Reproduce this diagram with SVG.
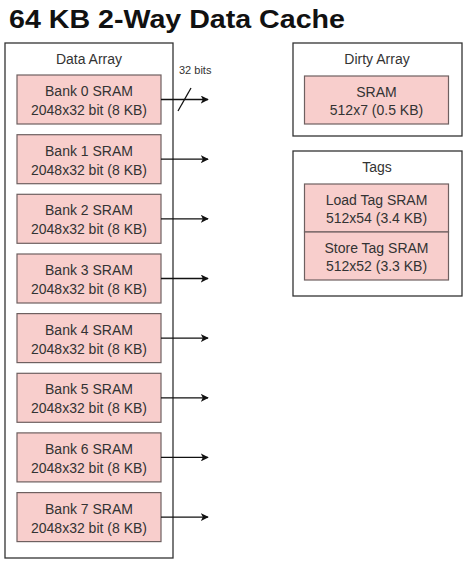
<svg xmlns="http://www.w3.org/2000/svg" width="464" height="564" viewBox="0 0 464 564">
<style>
.box{fill:#ffffff;stroke:#333333;stroke-width:1.3}
.sram{fill:#f8cecc;stroke:#6e6060;stroke-width:1.2}
.t{font-family:"Liberation Sans",Arial,sans-serif;font-size:14px;fill:#333333;text-anchor:middle}
.lbl{font-family:"Liberation Sans",Arial,sans-serif;font-size:11px;fill:#333333}
.title{font-family:"Liberation Sans",Arial,sans-serif;font-size:25px;font-weight:bold;fill:#111111}
.wire{stroke:#111111;stroke-width:1.3;fill:none}
</style>
<defs>
<marker id="arr" viewBox="0 0 10 10" refX="9" refY="5" markerWidth="8" markerHeight="8" markerUnits="userSpaceOnUse" orient="auto">
<path d="M0,0 L10,5 L0,10 L2.5,5 Z" fill="#111111"/>
</marker>
</defs>
<rect width="464" height="564" fill="#ffffff"/>
<text class="title" x="9" y="28" textLength="336" lengthAdjust="spacingAndGlyphs">64 KB 2-Way Data Cache</text>

<g id="data-array">
<rect class="box" x="5" y="43" width="168" height="515"/>
<text class="t" x="89" y="64">Data Array</text>
</g>

<g id="bank0" transform="translate(0,75)">
<rect class="sram" x="17" y="0" width="144" height="49"/>
<text class="t" x="89" y="21">Bank 0 SRAM</text>
<text class="t" x="89" y="40">2048x32 bit (8 KB)</text>
</g>
<g id="bank1" transform="translate(0,134.7)">
<rect class="sram" x="17" y="0" width="144" height="49"/>
<text class="t" x="89" y="21">Bank 1 SRAM</text>
<text class="t" x="89" y="40">2048x32 bit (8 KB)</text>
</g>
<g id="bank2" transform="translate(0,194.3)">
<rect class="sram" x="17" y="0" width="144" height="49"/>
<text class="t" x="89" y="21">Bank 2 SRAM</text>
<text class="t" x="89" y="40">2048x32 bit (8 KB)</text>
</g>
<g id="bank3" transform="translate(0,254)">
<rect class="sram" x="17" y="0" width="144" height="49"/>
<text class="t" x="89" y="21">Bank 3 SRAM</text>
<text class="t" x="89" y="40">2048x32 bit (8 KB)</text>
</g>
<g id="bank4" transform="translate(0,313.6)">
<rect class="sram" x="17" y="0" width="144" height="49"/>
<text class="t" x="89" y="21">Bank 4 SRAM</text>
<text class="t" x="89" y="40">2048x32 bit (8 KB)</text>
</g>
<g id="bank5" transform="translate(0,373.3)">
<rect class="sram" x="17" y="0" width="144" height="49"/>
<text class="t" x="89" y="21">Bank 5 SRAM</text>
<text class="t" x="89" y="40">2048x32 bit (8 KB)</text>
</g>
<g id="bank6" transform="translate(0,432.9)">
<rect class="sram" x="17" y="0" width="144" height="49"/>
<text class="t" x="89" y="21">Bank 6 SRAM</text>
<text class="t" x="89" y="40">2048x32 bit (8 KB)</text>
</g>
<g id="bank7" transform="translate(0,492.6)">
<rect class="sram" x="17" y="0" width="144" height="49"/>
<text class="t" x="89" y="21">Bank 7 SRAM</text>
<text class="t" x="89" y="40">2048x32 bit (8 KB)</text>
</g>

<g id="connectors">
<line class="wire" x1="161" y1="99.5" x2="208" y2="99.5" marker-end="url(#arr)"/>
<line class="wire" x1="161" y1="159.2" x2="208" y2="159.2" marker-end="url(#arr)"/>
<line class="wire" x1="161" y1="218.8" x2="208" y2="218.8" marker-end="url(#arr)"/>
<line class="wire" x1="161" y1="278.5" x2="208" y2="278.5" marker-end="url(#arr)"/>
<line class="wire" x1="161" y1="338.1" x2="208" y2="338.1" marker-end="url(#arr)"/>
<line class="wire" x1="161" y1="397.8" x2="208" y2="397.8" marker-end="url(#arr)"/>
<line class="wire" x1="161" y1="457.4" x2="208" y2="457.4" marker-end="url(#arr)"/>
<line class="wire" x1="161" y1="517.1" x2="208" y2="517.1" marker-end="url(#arr)"/>
<line class="wire" x1="178" y1="111" x2="191" y2="88"/>
<text class="lbl" x="179" y="74">32 bits</text>
</g>

<g id="dirty-array">
<rect class="box" x="293" y="43" width="169" height="93"/>
<text class="t" x="377" y="64">Dirty Array</text>
<rect class="sram" x="304.5" y="76" width="144" height="48"/>
<text class="t" x="376.5" y="97">SRAM</text>
<text class="t" x="376.5" y="115">512x7 (0.5 KB)</text>
</g>

<g id="tags">
<rect class="box" x="293" y="151" width="169" height="145"/>
<text class="t" x="377" y="172">Tags</text>
</g>
<g id="load-tag">
<rect class="sram" x="304.5" y="184" width="144" height="48"/>
<text class="t" x="376.5" y="204.5">Load Tag SRAM</text>
<text class="t" x="376.5" y="223">512x54 (3.4 KB)</text>
</g>
<g id="store-tag">
<rect class="sram" x="304.5" y="232" width="144" height="48"/>
<text class="t" x="376.5" y="252.5">Store Tag SRAM</text>
<text class="t" x="376.5" y="271">512x52 (3.3 KB)</text>
</g>
</svg>
